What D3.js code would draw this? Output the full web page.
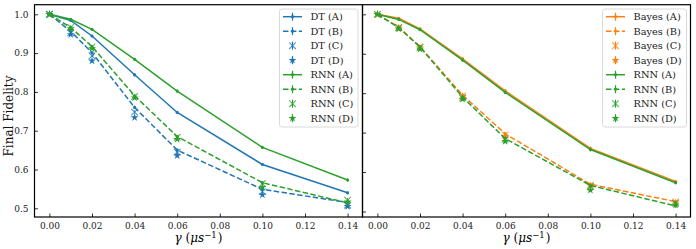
<!DOCTYPE html>
<html>
<head>
<meta charset="utf-8">
<script src="https://cdn.jsdelivr.net/npm/d3@7"></script>
<style>
  body { margin: 0; background: #fff; }
  svg { display: block; font-family: "DejaVu Serif", serif; }
</style>
</head>
<body>
<svg id="graph"></svg>
<script>
// gamma values along the x axis
var gammas = [0, 0.01, 0.02, 0.04, 0.06, 0.10, 0.14];
var xTicks = [0, 0.02, 0.04, 0.06, 0.08, 0.10, 0.12, 0.14];
var yTicks = [0.5, 0.6, 0.7, 0.8, 0.9, 1.0];

// left panel series
var dtA  = [1.0, 0.984, 0.944, 0.844, 0.747, 0.613, 0.540];
var dtB  = [1.0, 0.956, 0.901, 0.760, 0.650, 0.549, 0.515];
var dtC  = [1.0, 0.952, 0.893, 0.748, 0.645, 0.543, 0.508];
var dtD  = [1.0, 0.948, 0.880, 0.734, 0.636, 0.535, 0.505];
var rnnA = [1.0, 0.987, 0.961, 0.884, 0.802, 0.657, 0.573];
var rnnB = [1.0, 0.966, 0.917, 0.790, 0.685, 0.566, 0.514];
var rnnC = [1.0, 0.966, 0.916, 0.788, 0.683, 0.564, 0.521];
var rnnD = [1.0, 0.963, 0.912, 0.785, 0.678, 0.554, 0.517];
// right panel series
var bayesA = [1.0, 0.990, 0.963, 0.887, 0.806, 0.660, 0.576];
var bayesB = [1.0, 0.968, 0.918, 0.795, 0.697, 0.569, 0.525];
var bayesC = [1.0, 0.967, 0.917, 0.793, 0.694, 0.567, 0.524];
var bayesD = [1.0, 0.966, 0.915, 0.791, 0.690, 0.565, 0.522];
// small error bars
var errs = [0, 0.002, 0.003, 0.004, 0.004, 0.004, 0.004];

var blue = "#1f77b4", orange = "#ff7f0e", green = "#2ca02c";

var svg = d3.select("#graph").attr("width", 696).attr("height", 249);

// variant styles: A solid, B dashed, C x markers, D star markers
var styles = {
  A: { line: "solid",  marker: "dot" },
  B: { line: "dashed", marker: "dot" },
  C: { line: null,     marker: "x" },
  D: { line: null,     marker: "star" }
};

function series(name, key, values, color) {
  return { label: name + " (" + key + ")", key: key, values: values, color: color };
}

var panels = [
  { left: 34.5, right: 362.5, yDomain: [0.4776, 1.0247], yLabels: true, legendX: 279.5,
    series: [series("DT", "A", dtA, blue), series("DT", "B", dtB, blue),
             series("DT", "C", dtC, blue), series("DT", "D", dtD, blue),
             series("RNN", "A", rnnA, green), series("RNN", "B", rnnB, green),
             series("RNN", "C", rnnC, green), series("RNN", "D", rnnD, green)] },
  { left: 362.5, right: 690.5, yDomain: [0.486, 1.0244], yLabels: false, legendX: 602.5,
    series: [series("Bayes", "A", bayesA, orange), series("Bayes", "B", bayesB, orange),
             series("Bayes", "C", bayesC, orange), series("Bayes", "D", bayesD, orange),
             series("RNN", "A", rnnA, green), series("RNN", "B", rnnB, green),
             series("RNN", "C", rnnC, green), series("RNN", "D", rnnD, green)] }
];

var plotTop = 4.7, plotBottom = 217;

function drawMarker(g, type, color, cx, cy) {
  if (type === "dot") {
    g.append("circle").attr("cx", cx).attr("cy", cy).attr("r", 1.6).attr("fill", color);
  } else if (type === "x") {
    g.append("path").attr("transform", "translate(" + cx + "," + cy + ")")
      .attr("d", d3.symbol(d3.symbolTimes, 30)())
      .attr("fill", "none").attr("stroke", color).attr("stroke-width", 1.1).attr("opacity", 0.75);
  } else {
    g.append("path").attr("transform", "translate(" + cx + "," + cy + ")")
      .attr("d", d3.symbol(d3.symbolStar, 20)())
      .attr("fill", color);
  }
}

panels.forEach(function(p) {
  var x = d3.scaleLinear().domain([-0.007, 0.147]).range([p.left, p.right]);
  var y = d3.scaleLinear().domain(p.yDomain).range([plotBottom, plotTop]);
  var g = svg.append("g");

  // lines first
  p.series.forEach(function(s) {
    var st = styles[s.key];
    if (st.line) {
      var line = d3.line().x(function(d, i) { return x(gammas[i]); }).y(function(d) { return y(d); });
      g.append("path").datum(s.values)
        .attr("d", line)
        .attr("fill", "none")
        .attr("stroke", s.color)
        .attr("stroke-width", 1.5)
        .attr("stroke-dasharray", st.line === "dashed" ? "5.5,2.4" : null);
    }
    // error bars + markers
    s.values.forEach(function(v, i) {
      g.append("line")
        .attr("x1", x(gammas[i])).attr("x2", x(gammas[i]))
        .attr("y1", y(v - errs[i])).attr("y2", y(v + errs[i]))
        .attr("stroke", s.color).attr("stroke-width", 1.2);
      drawMarker(g, st.marker, s.color, x(gammas[i]), y(v));
    });
  });

  // axes with inward ticks
  var xAxis = g.append("g")
    .attr("transform", "translate(0," + plotBottom + ")")
    .call(d3.axisBottom(x).tickValues(xTicks).tickSize(-3.5).tickPadding(6)
      .tickFormat(d3.format(".2f")));
  var yAxis = g.append("g")
    .attr("transform", "translate(" + p.left + ",0)")
    .call(d3.axisLeft(y).tickValues(yTicks).tickSize(-3.5).tickPadding(6)
      .tickFormat(p.yLabels ? d3.format(".1f") : ""));
  [xAxis, yAxis].forEach(function(a) {
    a.select(".domain").remove();
    a.selectAll("text").attr("font-size", 9).attr("fill", "#222").attr("font-family", "DejaVu Serif");
    a.selectAll("line").attr("stroke", "#000").attr("stroke-width", 0.8);
  });

  // frame
  g.append("rect")
    .attr("x", p.left).attr("y", plotTop)
    .attr("width", p.right - p.left).attr("height", plotBottom - plotTop)
    .attr("fill", "none").attr("stroke", "#000").attr("stroke-width", 1.2);

  // x label
  var xl = g.append("text")
    .attr("x", (x(0) + x(0.14)) / 2).attr("y", 242)
    .attr("text-anchor", "middle").attr("font-size", 12);
  xl.append("tspan").attr("font-style", "italic").text("γ");
  xl.append("tspan").text(" (");
  xl.append("tspan").attr("font-style", "italic").text("μs");
  xl.append("tspan").attr("font-size", 8.5).attr("dy", -4.5).text("−1");
  xl.append("tspan").attr("dy", 4.5).attr("dx", 1).text(")");

  // legend
  var lg = g.append("g").attr("transform", "translate(" + p.legendX + ",9)");
  var lw = p.yLabels ? 78.5 : 84;
  lg.append("rect").attr("width", lw).attr("height", 118).attr("rx", 2.5)
    .attr("fill", "#fff").attr("fill-opacity", 0.8).attr("stroke", "#d0d0d0").attr("stroke-width", 0.8);
  p.series.forEach(function(s, i) {
    var st = styles[s.key];
    var cy = 7.7 + i * 14.5;
    var row = lg.append("g");
    var hx0 = 3.5, hx1 = 22.5, hc = (hx0 + hx1) / 2;
    if (st.line) {
      row.append("line").attr("x1", hx0).attr("x2", hx1).attr("y1", cy).attr("y2", cy)
        .attr("stroke", s.color).attr("stroke-width", 1.5)
        .attr("stroke-dasharray", st.line === "dashed" ? "5.5,2.4" : null);
    }
    row.append("line").attr("x1", hc).attr("x2", hc).attr("y1", cy - 4).attr("y2", cy + 4)
      .attr("stroke", s.color).attr("stroke-width", 1.2);
    drawMarker(row, st.marker, s.color, hc, cy);
    row.append("text").attr("x", 31).attr("y", cy).attr("dy", "0.35em")
      .attr("font-size", 9.8).attr("fill", "#222").text(s.label);
  });
});

// y label
svg.append("text")
  .attr("transform", "translate(12.5,116) rotate(-90)")
  .attr("text-anchor", "middle").attr("font-size", 12).attr("fill", "#111")
  .text("Final Fidelity");
</script>
</body>
</html>
